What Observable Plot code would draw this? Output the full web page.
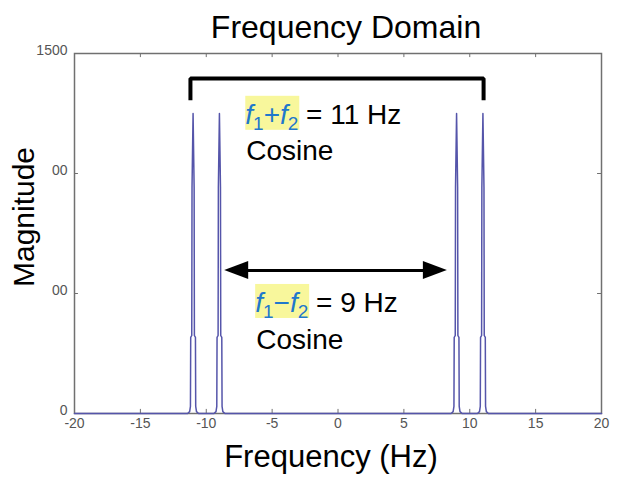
<!DOCTYPE html>
<html><head><meta charset="utf-8">
<script src="https://cdn.jsdelivr.net/npm/d3@7"></script>
<script src="https://cdn.jsdelivr.net/npm/@observablehq/plot@0.6"></script>
<style>body{margin:0;background:#fff;font-family:"Liberation Sans",Arial,sans-serif}</style>
</head><body><div id="chart"></div>
<script>
// Spectrum samples (Hz, magnitude)
const freq = [-20,
  -11.42,-11.26,-11.2,-11.18,-11.1,-11.08,-11,-10.92,-10.9,-10.82,-10.8,-10.74,-10.58,
  -9.42,-9.26,-9.2,-9.18,-9.1,-9.08,-9,-8.92,-8.9,-8.82,-8.8,-8.74,-8.58,
  8.58,8.74,8.8,8.82,8.9,8.92,9,9.08,9.1,9.18,9.2,9.26,9.42,
  10.58,10.74,10.8,10.82,10.9,10.92,11,11.08,11.1,11.18,11.2,11.26,11.42,
  20];
const magnitude = [0,
  0,8,30,317,325,942,1250,942,325,317,30,8,0,
  0,8,30,317,325,942,1250,942,325,317,30,8,0,
  0,8,30,317,325,942,1250,942,325,317,30,8,0,
  0,8,30,317,325,942,1250,942,325,317,30,8,0,
  0];
const xTicks = [-20,-15,-10,-5,0,5,10,15,20];
const yTicks = [0,500,1000,1500];
const yTickLabels = ["0","00","00","1500"];
const bracketX = [-11.2,-11.2,11.05,11.05];
const bracketY = [1305,1396,1396,1305];
const arrowX = [-8.6, 8.3];
const arrowY = 596;
const noteX = [-7.0, -6.25];
const noteY = [1205, 421];
const noteOp = ["+", "\u2212"];
const noteValue = [" = 11 Hz", " = 9 Hz"];
const cosineY = [1054, 267];
const title = "Frequency Domain";
const xLabel = "Frequency (Hz)";
const yLabel = "Magnitude";

const data = freq.map((f, i) => ({f, m: magnitude[i]}));
const lineColor = "#5555aa";
const axisColor = "#707070";

const plot = Plot.plot({
  width: 636, height: 486,
  marginLeft: 74, marginRight: 35, marginTop: 53, marginBottom: 73,
  style: {fontFamily: "Liberation Sans, Arial, sans-serif", background: "#fff"},
  x: {domain: [-20, 20]},
  y: {domain: [0, 1500]},
  marks: [
    Plot.axisX({ticks: xTicks, tickSize: 0, tickPadding: 5, fontSize: 14, color: "#555", label: null, tickFormat: d => String(d)}),
    Plot.axisY({ticks: yTicks, tickSize: 0, tickPadding: 7, fontSize: 14, color: "#555", label: null, dy: -3, tickFormat: d => yTickLabels[yTicks.indexOf(d)]}),
    Plot.ruleX(xTicks, {x: d => d, y1: 0, y2: 17, stroke: axisColor, strokeWidth: 1}),
    Plot.ruleX(xTicks, {x: d => d, y1: 1500, y2: 1483, stroke: axisColor, strokeWidth: 1}),
    Plot.ruleY(yTicks, {y: d => d, x1: -20, x2: -19.7, stroke: axisColor, strokeWidth: 1}),
    Plot.ruleY(yTicks, {y: d => d, x1: 20, x2: 19.7, stroke: axisColor, strokeWidth: 1}),
    Plot.frame({stroke: axisColor, strokeWidth: 1.5}),
    Plot.line(data, {x: "f", y: "m", stroke: lineColor, strokeWidth: 1.5}),
    Plot.line(bracketX.map((x, i) => ({x, y: bracketY[i]})), {x: "x", y: "y", stroke: "#000", strokeWidth: 4, strokeLinejoin: "miter", strokeLinecap: "butt"}),
    Plot.ruleY([arrowY], {x1: arrowX[0] + 1.2, x2: arrowX[1] - 1.2, stroke: "#000", strokeWidth: 3})
  ]
});
document.getElementById("chart").appendChild(plot);

const sx = plot.scale("x"), sy = plot.scale("y");
const svg = d3.select(plot);
const font = "Liberation Sans, Arial, sans-serif";

// arrow heads
const ay = sy.apply(arrowY);
const lx = sx.apply(arrowX[0]), rx = sx.apply(arrowX[1]);
svg.append("path").attr("d", `M${lx},${ay}L${lx+24},${ay-9}L${lx+24},${ay+9}Z`).attr("fill", "#000");
svg.append("path").attr("d", `M${rx},${ay}L${rx-24},${ay-9}L${rx-24},${ay+9}Z`).attr("fill", "#000");

// annotations
const blue = "#1f78cc";
noteX.forEach((nx, i) => {
  const px = sx.apply(nx), py = sy.apply(noteY[i]);
  svg.append("rect").attr("x", px).attr("y", py - 28).attr("width", 54).attr("height", 34).attr("fill", "#f8f79c");
  const t = svg.append("text").attr("x", px).attr("y", py).attr("text-anchor", "start").attr("font-family", font).attr("font-size", 28).attr("fill", "#000");
  t.append("tspan").attr("fill", blue).attr("font-style", "italic").text("f");
  t.append("tspan").attr("fill", blue).attr("font-size", 19).attr("dy", 6).text("1");
  t.append("tspan").attr("fill", blue).attr("dy", -6).text(noteOp[i]);
  t.append("tspan").attr("fill", blue).attr("font-style", "italic").text("f");
  t.append("tspan").attr("fill", blue).attr("font-size", 19).attr("dy", 6).text("2");
  t.append("tspan").attr("dy", -6).text(noteValue[i]);
  svg.append("text").attr("x", px + 1).attr("y", sy.apply(cosineY[i])).attr("text-anchor", "start").attr("font-family", font).attr("font-size", 28).attr("fill", "#000").text("Cosine");
});

// titles
svg.append("text").attr("x", 346).attr("y", 38).attr("text-anchor", "middle").attr("font-family", font).attr("font-size", 32).attr("fill", "#000").text(title);
svg.append("text").attr("x", 331).attr("y", 467).attr("text-anchor", "middle").attr("font-family", font).attr("font-size", 31).attr("fill", "#000").text(xLabel);
svg.append("text").attr("transform", "translate(34,217) rotate(-90)").attr("text-anchor", "middle").attr("font-family", font).attr("font-size", 30).attr("fill", "#000").text(yLabel);
</script>
</body></html>
